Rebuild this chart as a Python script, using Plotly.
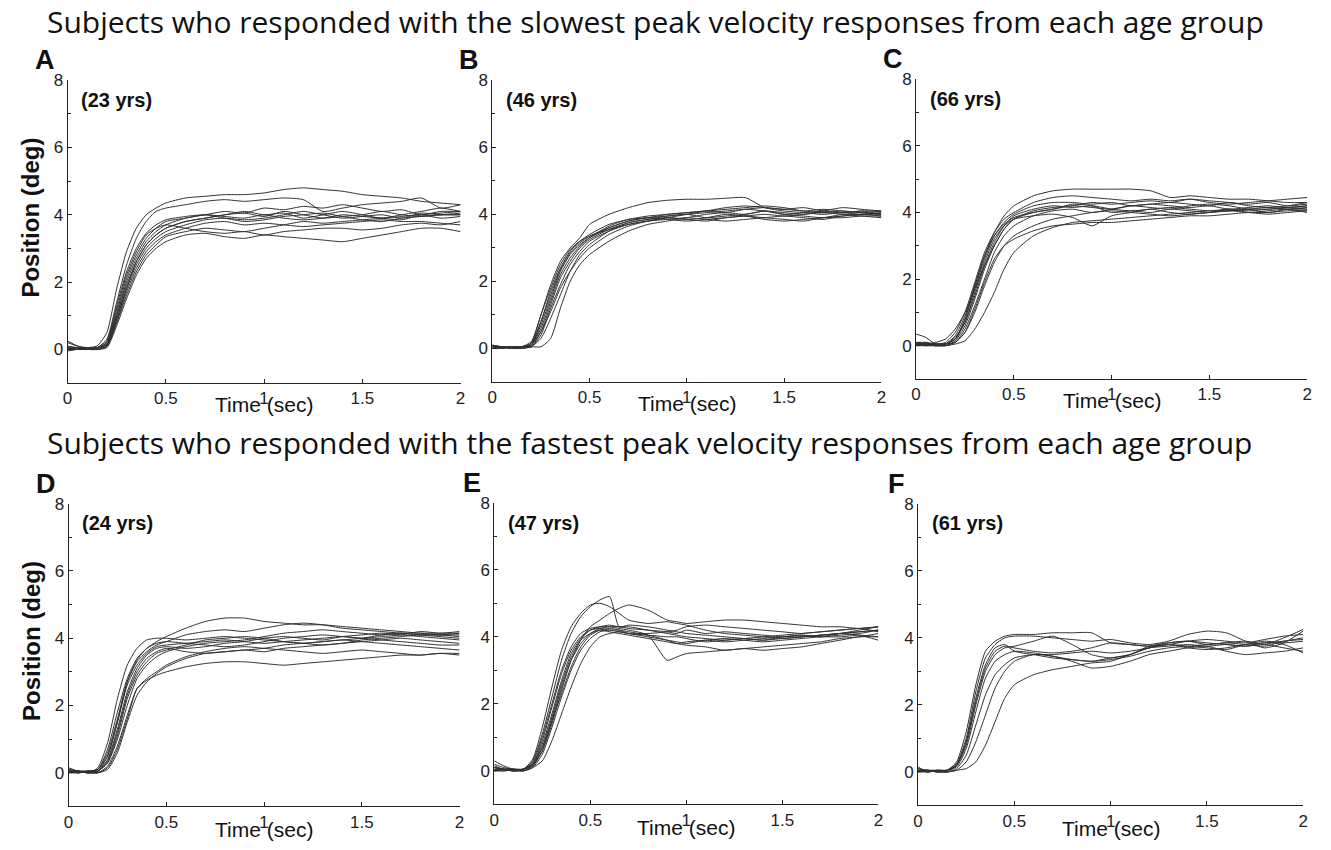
import plotly.graph_objects as go

# ---------------- data ----------------
T_STD = [0, 0.05, 0.1, 0.15, 0.2, 0.25, 0.3, 0.35, 0.4, 0.45, 0.5, 0.6, 0.7, 0.8,
         0.9, 1.0, 1.1, 1.2, 1.3, 1.4, 1.5, 1.6, 1.7, 1.8, 1.9, 2.0]
T_E = [0, 0.05, 0.1, 0.15, 0.2, 0.25, 0.3, 0.35, 0.4, 0.45, 0.5, 0.55, 0.6, 0.65,
       0.7, 0.8, 0.9, 0.95, 1.0, 1.1, 1.2, 1.3, 1.4, 1.5, 1.6, 1.7, 1.8, 1.9, 2.0]

A_23 = [
    [0.0,0.05,0.05,0.1,0.5,1.8,2.9,3.6,4.0,4.2,4.35,4.5,4.55,4.6,4.6,4.65,4.75,4.8,4.75,4.7,4.6,4.55,4.5,4.4,4.35,4.3],
    [0.2,0.1,0.05,0.05,0.3,1.4,2.5,3.3,3.8,4.1,4.2,4.3,4.4,4.45,4.4,4.45,4.5,4.45,4.1,4.2,4.3,4.35,4.4,4.5,4.2,4.3],
    [0.0,0.0,0.05,0.0,0.2,1.1,2.1,2.8,3.3,3.6,3.8,3.9,4.0,3.95,3.9,4.0,3.9,3.85,3.9,4.0,3.95,3.9,3.85,4.0,4.05,4.1],
    [0.05,0.0,0.0,0.05,0.15,1.0,1.9,2.6,3.1,3.4,3.6,3.8,3.9,4.0,4.05,3.95,4.1,4.0,3.9,3.95,4.0,4.1,4.0,3.95,4.0,4.05],
    [-0.05,0.0,0.05,0.0,0.1,0.9,1.8,2.5,3.0,3.3,3.5,3.7,3.85,3.9,3.85,3.9,4.0,4.1,4.0,3.9,3.95,4.0,3.9,4.05,4.0,4.0],
    [0.1,0.05,0.0,0.0,0.1,0.8,1.6,2.3,2.8,3.1,3.35,3.5,3.6,3.55,3.5,3.6,3.7,3.8,3.75,3.8,3.85,3.9,3.95,4.0,3.9,3.95],
    [0.0,0.05,0.05,0.0,0.05,0.7,1.5,2.2,2.7,3.0,3.2,3.4,3.45,3.35,3.3,3.4,3.35,3.3,3.25,3.2,3.3,3.4,3.5,3.6,3.6,3.5],
    [0.05,0.0,0.05,0.05,0.2,1.2,2.2,2.9,3.4,3.6,3.7,3.6,3.5,3.45,3.5,3.4,3.5,3.55,3.6,3.6,3.55,3.6,3.7,3.75,3.7,3.8],
    [0.25,0.1,0.0,0.0,0.15,1.0,2.0,2.7,3.2,3.5,3.7,3.9,4.0,4.1,4.05,4.2,4.15,4.25,4.2,4.3,4.2,4.1,4.15,4.0,4.1,4.1],
    [0.0,0.0,0.05,0.0,0.1,0.9,1.8,2.6,3.1,3.4,3.6,3.8,3.9,4.0,4.1,4.0,4.05,3.9,4.0,4.1,4.0,3.9,4.0,4.1,4.2,4.1],
    [0.05,0.05,0.0,0.05,0.25,1.3,2.3,3.0,3.45,3.7,3.85,3.95,4.0,3.9,3.8,3.85,3.95,4.0,4.05,3.95,3.85,3.8,3.9,3.95,4.0,4.0],
    [0.0,0.0,0.0,0.0,0.1,0.8,1.7,2.4,2.9,3.2,3.4,3.6,3.75,3.8,3.7,3.75,3.7,3.65,3.7,3.75,3.8,3.85,3.8,3.8,3.75,3.7],
]

B_46 = [
    [0.05,0.05,0.0,0.05,0.15,1.0,1.9,2.6,3.0,3.3,3.7,4.0,4.2,4.35,4.42,4.45,4.45,4.48,4.5,4.2,4.1,4.05,4.0,4.05,4.0,4.05],
    [0.1,0.05,0.05,0.05,0.1,0.8,1.7,2.4,2.9,3.2,3.4,3.7,3.85,3.95,4.0,4.05,4.1,4.15,4.2,4.25,4.2,4.1,4.15,4.1,4.05,4.0],
    [0.0,0.0,0.05,0.05,0.1,0.7,1.5,2.3,2.8,3.1,3.3,3.6,3.8,3.9,3.95,4.0,4.05,4.1,4.15,4.1,4.0,4.05,4.1,4.2,4.15,4.1],
    [0.05,0.05,0.0,0.05,0.05,0.5,1.3,2.1,2.6,3.0,3.25,3.55,3.75,3.85,3.9,3.85,3.9,4.0,3.95,3.9,3.85,3.8,3.9,3.95,4.0,3.95],
    [0.1,0.0,0.05,0.05,0.05,0.4,1.2,1.9,2.5,2.9,3.2,3.5,3.7,3.8,3.85,3.9,3.85,3.8,3.85,3.9,3.95,3.9,3.85,3.95,4.0,4.0],
    [0.05,0.05,0.0,0.0,0.05,0.05,0.3,1.2,2.0,2.5,2.8,3.2,3.5,3.7,3.8,3.9,4.0,4.05,4.0,4.1,4.0,3.95,3.9,4.0,4.0,4.05],
    [0.0,0.05,0.05,0.05,0.1,0.6,1.4,2.2,2.7,3.05,3.3,3.65,3.85,3.9,4.0,4.05,4.1,4.05,4.15,4.2,4.15,4.2,4.1,4.05,4.1,4.1],
    [0.05,0.0,0.05,0.0,0.1,0.5,1.1,1.8,2.3,2.7,3.0,3.4,3.65,3.8,3.9,3.85,3.8,3.9,3.95,4.0,3.95,4.0,4.05,4.0,3.95,3.9],
    [0.0,0.05,0.0,0.05,0.2,1.0,1.8,2.5,2.95,3.2,3.35,3.55,3.7,3.8,3.9,4.0,4.1,4.2,4.25,4.2,4.15,4.1,4.05,4.1,4.05,4.1],
    [0.05,0.05,0.05,0.0,0.05,0.3,0.9,1.6,2.3,2.8,3.1,3.5,3.75,3.85,3.95,4.0,3.9,3.95,4.0,4.1,4.05,4.0,4.1,4.05,4.1,4.0],
    [0.1,0.05,0.0,0.05,0.15,0.8,1.6,2.35,2.85,3.15,3.35,3.6,3.8,3.9,3.85,3.8,3.85,3.9,3.95,3.85,3.8,3.85,3.9,3.9,3.95,3.95],
]

C_66 = [
    [0.1,0.05,0.0,0.05,0.3,0.9,1.8,2.7,3.4,3.9,4.2,4.5,4.65,4.7,4.7,4.7,4.7,4.65,4.45,4.5,4.45,4.4,4.4,4.35,4.3,4.3],
    [0.35,0.25,0.05,0.1,0.4,1.0,1.9,2.8,3.4,3.8,4.0,4.3,4.45,4.5,4.45,4.4,4.35,4.4,4.35,4.4,4.3,4.25,4.3,4.35,4.4,4.45],
    [0.05,0.1,0.0,0.05,0.2,0.8,1.7,2.6,3.3,3.7,3.95,4.2,4.3,4.3,4.25,4.3,4.2,4.25,4.2,4.15,4.2,4.1,4.15,4.2,4.15,4.2],
    [0.0,0.05,0.05,0.05,0.25,0.7,1.5,2.4,3.1,3.6,3.9,4.1,4.2,4.15,4.2,4.1,4.05,4.1,4.15,4.1,4.05,4.1,4.05,4.1,4.15,4.1],
    [0.1,0.1,0.05,0.0,0.15,0.6,1.4,2.3,3.0,3.5,3.8,4.0,4.1,4.25,4.2,4.0,4.05,4.0,4.1,4.05,4.0,4.1,4.0,4.05,4.1,4.0],
    [0.0,0.0,0.0,0.05,0.1,0.5,1.2,2.0,2.8,3.3,3.6,3.9,4.05,4.1,4.0,4.1,4.2,4.15,4.1,4.2,4.25,4.2,4.1,4.0,4.1,4.15],
    [0.05,0.05,0.05,0.05,0.2,0.7,1.6,2.5,3.2,3.6,3.8,3.9,3.95,3.85,3.6,3.9,4.0,4.1,4.0,3.95,4.0,4.05,4.0,3.95,4.0,4.05],
    [0.1,0.0,0.05,0.05,0.1,0.4,1.0,1.8,2.5,3.0,3.3,3.6,3.8,3.9,4.0,4.05,4.0,3.95,3.9,3.95,4.0,4.05,4.1,4.15,4.1,4.1],
    [0.05,0.05,0.0,0.0,0.1,0.4,1.1,1.9,2.6,3.0,3.2,3.45,3.6,3.65,3.7,3.7,3.75,3.8,3.85,3.9,3.9,3.95,4.0,4.0,4.05,4.05],
    [0.0,0.05,0.0,0.0,0.05,0.15,0.5,1.0,1.6,2.3,2.8,3.3,3.55,3.7,3.75,3.8,3.85,3.9,3.95,4.0,4.05,4.05,4.1,4.1,4.15,4.2],
    [0.1,0.05,0.1,0.2,0.5,1.0,1.7,2.4,3.0,3.5,3.8,4.05,4.15,4.2,4.3,4.25,4.3,4.35,4.3,4.4,4.35,4.3,4.25,4.3,4.2,4.25],
    [0.05,0.0,0.05,0.05,0.2,0.8,1.8,2.7,3.3,3.65,3.85,4.0,4.1,4.2,4.15,4.1,4.2,4.25,4.3,4.25,4.2,4.3,4.2,4.15,4.2,4.3],
]

D_24 = [
    [0.05,0.0,0.05,0.1,0.7,1.8,2.8,3.4,3.7,3.9,4.05,4.3,4.5,4.6,4.6,4.5,4.45,4.4,4.4,4.35,4.3,4.25,4.2,4.15,4.1,4.1],
    [0.1,0.05,0.0,0.15,0.9,2.2,3.2,3.7,3.95,4.0,4.0,3.95,4.0,4.05,4.0,3.95,3.9,3.85,3.9,3.95,4.0,4.1,4.15,4.15,4.15,4.15],
    [0.0,0.05,0.05,0.1,0.6,1.6,2.7,3.3,3.6,3.8,3.9,4.1,4.2,4.25,4.2,4.3,4.4,4.45,4.4,4.3,4.25,4.2,4.15,4.1,4.1,4.05],
    [0.05,0.0,0.05,0.05,0.4,1.3,2.4,3.1,3.5,3.7,3.75,3.7,3.75,3.85,3.9,4.0,4.05,4.0,3.95,4.05,4.1,4.15,4.1,4.05,4.0,3.95],
    [0.05,0.05,0.0,0.05,0.3,1.1,2.2,2.9,3.3,3.55,3.65,3.8,3.95,4.0,4.05,4.0,3.9,3.85,3.8,3.85,3.95,4.0,4.05,4.1,4.1,4.15],
    [0.1,0.05,0.0,0.0,0.2,0.8,1.7,2.5,2.75,2.9,3.0,3.15,3.25,3.3,3.3,3.25,3.2,3.25,3.3,3.35,3.4,3.45,3.5,3.5,3.55,3.55],
    [0.0,0.0,0.05,0.0,0.15,0.7,1.6,2.5,2.8,3.0,3.2,3.45,3.6,3.7,3.75,3.7,3.65,3.6,3.55,3.6,3.65,3.6,3.55,3.5,3.55,3.5],
    [0.05,0.05,0.0,0.1,0.5,1.5,2.6,3.2,3.55,3.75,3.8,3.85,3.9,3.95,3.9,3.85,3.9,3.95,4.0,4.05,4.0,4.05,4.1,4.2,4.15,4.2],
    [0.15,0.05,0.0,0.0,0.1,0.6,1.5,2.3,2.7,2.95,3.15,3.4,3.55,3.6,3.65,3.7,3.8,3.85,3.9,3.95,3.9,3.85,3.8,3.75,3.7,3.65],
    [0.05,0.0,0.05,0.05,0.5,1.5,2.7,3.35,3.7,3.85,3.9,3.85,3.8,3.75,3.8,3.9,4.0,4.05,4.1,4.05,4.0,3.95,3.9,3.85,3.8,3.8],
    [0.0,0.05,0.0,0.05,0.3,1.0,2.0,2.8,3.2,3.45,3.6,3.75,3.85,3.9,3.95,4.05,4.15,4.2,4.25,4.2,4.15,4.1,4.15,4.1,4.05,4.0],
    [0.05,0.05,0.05,0.05,0.35,1.2,2.3,3.0,3.4,3.6,3.7,3.6,3.55,3.6,3.65,3.6,3.7,3.75,3.8,3.85,3.9,3.95,4.0,3.95,3.9,3.85],
]

E_47 = [
    [0.1,0.05,0.0,0.05,0.3,1.1,2.2,3.3,4.1,4.6,4.9,5.1,5.2,4.3,4.35,4.3,4.2,4.15,4.1,4.05,4.0,3.95,3.9,3.95,4.0,4.05,4.1,4.15,4.2],
    [0.0,0.05,0.05,0.05,0.15,0.6,1.4,2.4,3.3,3.9,4.3,4.5,4.7,4.85,4.95,4.8,4.5,4.45,4.4,4.45,4.5,4.5,4.45,4.4,4.35,4.3,4.3,4.25,4.3],
    [0.3,0.15,0.05,0.05,0.25,1.0,2.0,3.0,3.7,4.1,4.25,4.3,4.3,4.25,4.2,4.05,3.3,3.4,3.5,3.55,3.6,3.65,3.7,3.75,3.8,3.85,3.95,4.0,4.1],
    [0.1,0.05,0.0,0.05,0.2,0.9,1.9,2.9,3.6,4.0,4.2,4.25,4.2,4.15,4.1,4.0,3.9,3.85,3.8,3.9,3.85,3.9,3.95,4.0,4.0,4.05,4.1,4.15,4.2],
    [0.0,0.0,0.05,0.05,0.15,0.6,1.5,2.5,3.3,3.8,4.1,4.25,4.3,4.3,4.25,4.2,4.15,4.1,4.2,4.1,4.15,4.1,4.05,4.0,4.05,4.0,4.05,4.1,4.2],
    [0.05,0.05,0.05,0.0,0.1,0.5,1.3,2.2,3.0,3.6,3.95,4.15,4.2,4.2,4.15,4.05,3.9,3.8,3.75,3.7,3.6,3.65,3.6,3.65,3.7,3.8,3.9,4.0,4.0],
    [0.15,0.05,0.0,0.05,0.2,0.8,1.7,2.7,3.5,3.95,4.2,4.3,4.35,4.3,4.3,4.2,4.1,4.05,4.0,3.95,3.9,3.95,4.0,4.05,4.1,4.15,4.2,4.25,4.3],
    [0.05,0.0,0.05,0.0,0.1,0.3,0.9,1.7,2.5,3.2,3.7,4.0,4.1,4.15,4.1,4.05,4.0,4.0,3.95,3.85,3.9,3.95,3.9,4.0,4.05,4.0,4.1,4.05,3.9],
    [0.2,0.1,0.05,0.05,0.35,1.3,2.5,3.6,4.3,4.7,4.95,5.0,4.9,4.7,4.5,4.4,4.45,4.4,4.35,4.2,4.1,4.05,4.0,3.95,4.0,4.05,4.1,4.2,4.3],
    [0.1,0.05,0.0,0.0,0.15,0.7,1.6,2.6,3.4,3.9,4.1,4.2,4.15,4.1,4.05,3.95,3.85,3.8,3.85,3.9,3.95,3.9,3.85,3.9,3.95,4.0,4.0,4.05,4.0],
    [0.0,0.05,0.05,0.05,0.2,0.7,1.5,2.3,3.1,3.7,4.05,4.2,4.25,4.2,4.1,4.1,4.15,4.2,4.3,4.35,4.3,4.25,4.2,4.15,4.1,4.15,4.2,4.25,4.15],
]

F_61 = [
    [0.1,0.0,0.05,0.05,0.3,1.2,2.6,3.6,3.9,4.05,4.1,4.1,4.15,4.15,4.15,3.85,3.8,3.75,3.85,3.9,3.8,3.85,3.8,3.75,3.9,3.95],
    [0.0,0.05,0.0,0.05,0.25,1.0,2.4,3.4,3.8,4.0,4.05,4.05,4.0,3.95,3.9,3.95,3.85,3.8,3.9,4.1,4.2,4.15,3.9,3.7,3.85,4.2],
    [0.15,0.0,0.05,0.0,0.2,0.9,2.2,3.2,3.7,3.8,3.6,3.5,3.4,3.35,3.3,3.35,3.45,3.6,3.7,3.75,3.8,3.85,3.9,3.8,4.0,4.25],
    [0.05,0.05,0.0,0.05,0.2,0.8,2.0,3.0,3.5,3.7,3.75,3.9,4.05,3.8,3.5,3.4,3.5,3.7,3.8,3.75,3.7,3.65,3.8,3.9,3.85,3.9],
    [0.0,0.0,0.05,0.05,0.15,0.7,1.8,2.8,3.3,3.5,3.6,3.55,3.45,3.35,3.3,3.4,3.5,3.75,3.85,3.9,3.85,3.8,3.75,3.8,3.7,3.6],
    [0.1,0.05,0.0,0.0,0.1,0.5,1.4,2.3,2.9,3.2,3.4,3.5,3.5,3.55,3.6,3.55,3.6,3.7,3.8,3.7,3.65,3.7,3.8,3.85,3.9,4.0],
    [0.05,0.05,0.05,0.0,0.05,0.3,0.9,1.7,2.5,3.0,3.3,3.5,3.45,3.3,3.1,3.15,3.3,3.5,3.6,3.7,3.75,3.6,3.5,3.55,3.6,3.7],
    [0.0,0.05,0.0,0.0,0.05,0.1,0.3,0.8,1.5,2.2,2.6,2.9,3.05,3.15,3.25,3.3,3.5,3.7,3.75,3.8,3.75,3.8,3.75,3.85,3.8,3.55],
    [0.05,0.0,0.05,0.05,0.2,0.9,2.1,3.1,3.6,3.75,3.7,3.6,3.55,3.6,3.7,3.85,3.8,3.75,3.8,3.9,3.95,3.9,3.85,3.95,4.05,4.1],
]

PANEL_LETTERS = ["A", "B", "C", "D", "E", "F"]
AGE_LABELS = ["(23 yrs)", "(46 yrs)", "(66 yrs)", "(24 yrs)", "(47 yrs)", "(61 yrs)"]
ROW_TITLES = ["Subjects who responded with the slowest peak velocity responses from each age group",
              "Subjects who responded with the fastest peak velocity responses from each age group"]
X_TICKS = [0, 0.5, 1, 1.5, 2]
X_TICK_TEXT = ["0", "0.5", "1", "1.5", "2"]
Y_TICKS = [0, 2, 4, 6, 8]
Y_MINOR = [-1, 1, 3, 5, 7]

# ---------------- layout in pixels ----------------
W, H = 1331, 850
# (left, right, top, bottom) of each plot area in pixels
BOXES = [
    (63, 459, 72, 378),
    (491, 883, 72, 377),
    (918, 1312, 71, 374),
    (64, 458, 500, 806),
    (493, 880, 499, 804),
    (920, 1308, 500, 805),
]
SERIES = [(T_STD, A_23), (T_STD, B_46), (T_STD, C_66), (T_STD, D_24), (T_E, E_47), (T_STD, F_61)]

fig = go.Figure()
annotations = []
ARIAL = "Liberation Sans, Arial, sans-serif"
tickfont = dict(family=ARIAL, size=17, color="#222")

for i, ((l, r, t, b), (tt, curves)) in enumerate(zip(BOXES, SERIES)):
    n = i + 1
    xa = "x" if n == 1 else f"x{n}"
    ya = "y" if n == 1 else f"y{n}"
    for yv in curves:
        fig.add_trace(go.Scatter(x=tt, y=yv, mode="lines", xaxis=xa, yaxis=ya,
                                 line=dict(color="#303030", width=1, shape="spline", smoothing=0.6),
                                 showlegend=False, hoverinfo="skip"))
    xk = "xaxis" if n == 1 else f"xaxis{n}"
    yk = "yaxis" if n == 1 else f"yaxis{n}"
    fig.layout[xk] = dict(domain=[l / W, r / W], anchor=ya, range=[0, 2],
                          tickvals=X_TICKS, ticktext=X_TICK_TEXT, ticks="inside", ticklen=4,
                          tickcolor="#222", showline=True, linecolor="#222", linewidth=1,
                          showgrid=False, zeroline=False, tickfont=tickfont)
    fig.layout[yk] = dict(domain=[1 - b / H, 1 - t / H], anchor=xa, range=[-1, 8],
                          tickvals=Y_TICKS, ticks="inside", ticklen=4, tickcolor="#222",
                          minor=dict(tickvals=Y_MINOR, ticks="inside", ticklen=3, tickcolor="#222"),
                          showline=True, linecolor="#222", linewidth=1,
                          showgrid=False, zeroline=False, tickfont=tickfont)
    # panel letter
    annotations.append(dict(text=f"<b>{PANEL_LETTERS[i]}</b>", xref="paper", yref="paper",
                            x=(l - 11) / W, y=1 - (t - 3) / H, xanchor="right", yanchor="bottom",
                            showarrow=False, font=dict(family=ARIAL, size=27, color="#111")))
    # age label
    annotations.append(dict(text=f"<b>{AGE_LABELS[i]}</b>", xref="paper", yref="paper",
                            x=(l + 12) / W, y=1 - (t + 20) / H, xanchor="left", yanchor="middle",
                            showarrow=False, font=dict(family=ARIAL, size=20, color="#111")))
    # x axis title
    ty = b + 22 if i < 3 else b + 23
    annotations.append(dict(text="Time (sec)", xref="paper", yref="paper",
                            x=(l + (r - l) / 2) / W, y=1 - ty / H, xanchor="center", yanchor="middle",
                            showarrow=False, font=dict(family=ARIAL, size=21, color="#111")))

# y axis titles (only first column)
for cy in (211, 639):
    annotations.append(dict(text="<b>Position (deg)</b>", xref="paper", yref="paper",
                            x=26 / W, y=1 - cy / H, xanchor="center", yanchor="middle",
                            textangle=-90, showarrow=False,
                            font=dict(family=ARIAL, size=24, color="#111")))

# row titles
for txt, cy in zip(ROW_TITLES, (13, 438)):
    annotations.append(dict(text=txt, xref="paper", yref="paper", x=40 / W, y=1 - cy / H,
                            xanchor="left", yanchor="middle", showarrow=False,
                            font=dict(family="Open Sans, sans-serif", size=30, color="#111")))

fig.update_layout(width=W, height=H, margin=dict(l=0, r=0, t=0, b=0),
                  paper_bgcolor="white", plot_bgcolor="white", annotations=annotations)

fig.write_html("out.html", config={"displayModeBar": False},
               post_script="document.body.style.margin='0';document.body.style.overflow='hidden';")
